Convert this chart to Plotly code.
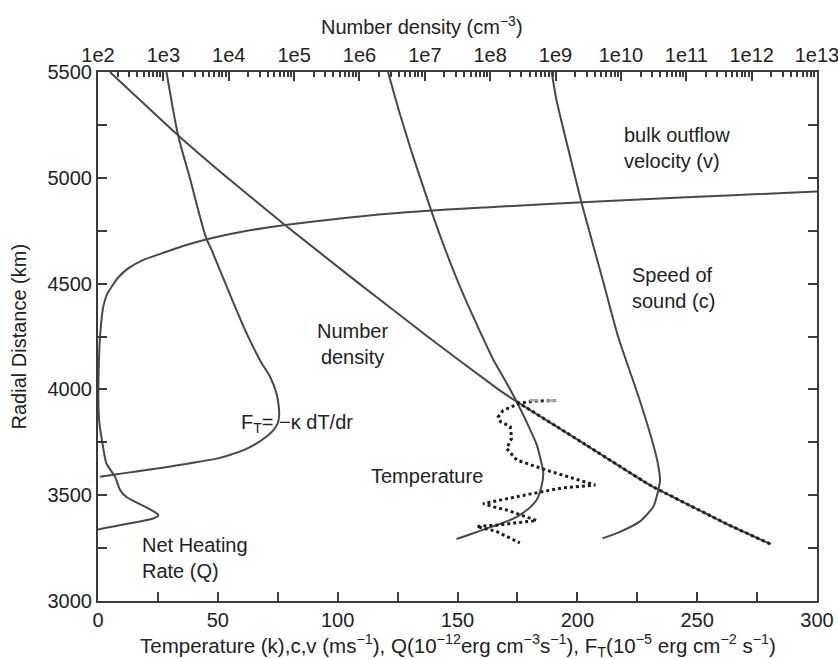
import plotly.graph_objects as go

# ---- profiles vs. radial distance (km) ----
# bulk outflow velocity v (m/s)
velocity_r = [3900, 4050, 4200, 4300, 4391, 4450, 4485, 4530, 4572, 4610, 4643, 4678, 4710, 4745,
              4777, 4810, 4838, 4862, 4883, 4900, 4918, 4935]
velocity_v = [0.0, 0.2, 0.6, 1.2, 2.2, 3.8, 5.7, 8.5, 12.6, 18.5, 26.6, 35.5, 45.5, 60.0,
              78.0, 103.0, 130.0, 165.0, 200.0, 230.0, 265.0, 300.0]

# net heating rate Q (1e-12 erg cm^-3 s^-1)
heating_r = [4000, 3850, 3750, 3650, 3587, 3525, 3490, 3455, 3425, 3406, 3390, 3375, 3360, 3347, 3338]
heating_q = [0.0, 0.5, 1.8, 3.5, 7.1, 9.2, 12.0, 18.0, 23.0, 25.2, 23.0, 17.0, 10.0, 4.0, 0.0]

# conductive heat flux F_T (1e-5 erg cm^-2 s^-1)
flux_r = [5500, 5202, 5000, 4720, 4659, 4450, 4265, 4130, 4060, 3980, 3920, 3880, 3840, 3808,
          3770, 3740, 3714, 3690, 3674, 3650, 3630, 3612, 3598, 3587]
flux_f = [28.6, 33.4, 38.3, 45.0, 47.4, 55.0, 62.0, 68.0, 71.8, 74.5, 75.4, 75.6, 75.0, 73.2,
          69.5, 65.5, 61.0, 55.0, 50.0, 38.0, 27.0, 16.0, 7.0, 0.8]

# model temperature (K)
temp_r = [5500, 5300, 5100, 4840, 4706, 4500, 4320, 4139, 4040, 3942, 3830, 3740, 3682, 3604, 3540,
          3477, 3435, 3398, 3365, 3343, 3318, 3293]
temp_t = [121.0, 126.0, 131.5, 139.2, 143.4, 150.5, 157.5, 165.0, 170.0, 174.7, 179.5, 183.0, 184.4,
          185.8, 185.0, 183.0, 179.5, 174.7, 168.0, 162.2, 156.0, 149.6]

# speed of sound c (m/s)
sound_r = [5500, 5368, 5100, 4880, 4706, 4500, 4250, 3950, 3750, 3650, 3572, 3525, 3446, 3375, 3327, 3296]
sound_c = [189.3, 191.3, 197.0, 201.8, 206.0, 211.0, 217.0, 226.0, 231.4, 233.6, 234.5, 233.8, 231.7,
           226.0, 217.8, 210.5]

# number density (cm^-3), top log axis
density_r = [5500, 5200, 5000, 4777, 4500, 4250, 4000, 3942, 3816, 3750, 3548, 3400, 3364, 3269]
density_n = [1.52e2, 1.69e3, 9.55e3, 7.24e4, 9.9e5, 1.10e7, 1.33e8, 2.55e8, 1.15e9, 2.53e9, 2.78e10,
             2.44e11, 4.15e11, 1.95e12]

# measured temperature profile (K)
obs_r = [3947, 3945, 3935, 3900, 3870, 3847, 3824, 3769, 3721, 3666, 3619, 3585, 3555, 3548, 3535,
         3505, 3460, 3445, 3430, 3380, 3370, 3360, 3352, 3330, 3275]
obs_t = [191.0, 182.0, 176.0, 169.0, 167.0, 168.0, 172.0, 172.6, 170.5, 174.7, 187.0, 197.0, 206.0,
         207.5, 194.0, 180.0, 160.7, 165.0, 170.5, 183.0, 175.0, 167.7, 158.0, 166.0, 176.0]
obs_faint_r = [3949, 3947]
obs_faint_t = [180.0, 191.3]

# axis ticks
x_ticks = list(range(0, 301, 25))
x_labels = [str(v) if v % 50 == 0 else "" for v in x_ticks]
y_ticks = list(range(3000, 5501, 250))
y_labels = [str(v) if v % 500 == 0 else "" for v in y_ticks]
decades = list(range(2, 14))
decade_labels = ["1e%d" % d for d in decades]

FONT = "Liberation Sans, Arial, sans-serif"
FS = 20
INK = "#222222"
AXIS = "#3a3a3a"
CURVE = "#484848"

fig = go.Figure()


def curve(x, y, axis="x", **line):
    style = dict(color=CURVE, width=2)
    style.update(line)
    fig.add_trace(go.Scatter(x=x, y=y, mode="lines", xaxis=axis, yaxis="y",
                             line=style, hoverinfo="skip", showlegend=False))


curve(velocity_v, velocity_r, shape="spline", smoothing=0.8)
curve(heating_q, heating_r, shape="spline", smoothing=0.6)
curve(flux_f, flux_r, shape="spline", smoothing=0.8)
curve(temp_t, temp_r, shape="spline", smoothing=0.6)
curve(sound_c, sound_r, shape="spline", smoothing=0.6)
curve(density_n, density_r, axis="x2", shape="spline", smoothing=0.4)

# measured points along the lower part of the density profile
low = [i for i, r in enumerate(density_r) if r <= 3942]
curve([density_n[i] for i in low], [density_r[i] for i in low], axis="x2",
      color="#1e1e1e", width=3, dash="dot", shape="spline", smoothing=0.4)

# measured temperature
curve(obs_t, obs_r, color="#1e1e1e", width=3, dash="dot")
curve(obs_faint_t, obs_faint_r, color="#a8a8a8", width=2.5, dash="dash")

# anchor for the long decade ticks on the top axis
fig.add_trace(go.Scatter(x=[1e2], y=[3000], mode="markers", xaxis="x3", yaxis="y",
                         marker=dict(opacity=0), hoverinfo="skip", showlegend=False))

axis_common = dict(showline=True, linewidth=2, linecolor=AXIS, showgrid=False,
                   zeroline=False, ticks="inside", tickcolor=AXIS, automargin=False,
                   ticklabeloverflow="allow",
                   tickfont=dict(family=FONT, size=FS, color=INK))

fig.update_layout(
    width=838, height=659,
    margin=dict(l=98, r=21, t=72, b=58, autoexpand=False),
    paper_bgcolor="white", plot_bgcolor="white",
    font=dict(family=FONT, size=FS, color=INK),
    xaxis=dict(range=[0, 300], tickmode="array", tickvals=x_ticks, ticktext=x_labels,
               ticklen=9, tickwidth=2, anchor="y", side="bottom", **axis_common),
    yaxis=dict(range=[3000, 5500], tickmode="array", tickvals=y_ticks, ticktext=y_labels,
               ticklen=9, tickwidth=2, mirror="ticks", **axis_common),
    xaxis2=dict(type="log", range=[2, 13], overlaying="x", side="top", anchor="y",
                tickmode="array",
                tickvals=[m * 10 ** d for d in range(2, 13) for m in range(2, 10)] + [10 ** d for d in decades],
                ticktext=[""] * (11 * 8) + decade_labels,
                ticklen=5, tickwidth=1.5, **axis_common),
    xaxis3=dict(type="log", range=[2, 13], overlaying="x", side="top", anchor="y",
                tickmode="array", tickvals=[10 ** d for d in decades], automargin=False,
                showticklabels=False, ticklen=9, showline=False, showgrid=False,
                zeroline=False, ticks="inside", tickwidth=2, tickcolor=AXIS),
)


def label(text, x, y, **kw):
    opts = dict(showarrow=False, font=dict(family=FONT, size=FS, color=INK))
    opts.update(kw)
    fig.add_annotation(text=text, x=x, y=y, **opts)


# axis titles
label("Radial Distance (km)", 0, 0.5, xref="paper", yref="paper", textangle=-90,
      xshift=-80, xanchor="center", yanchor="middle")
label("Temperature (k),c,v (ms<sup>\u22121</sup>), Q(10<sup>\u221212</sup>erg cm<sup>\u22123</sup>s<sup>\u22121</sup>), "
      "F<sub>T</sub>(10<sup>\u22125</sup> erg cm<sup>\u22122</sup> s<sup>\u22121</sup>)",
      0.5, 0, xref="paper", yref="paper", yshift=-44, yanchor="middle",
      font=dict(family=FONT, size=20.5, color=INK))
label("Number density (cm<sup>\u22123</sup>)", 0.45, 1, xref="paper", yref="paper",
      yshift=47, yanchor="middle")

# curve labels
label("bulk outflow<br>velocity (v)", 218.5, 5141, xref="x", yref="y", xanchor="left", align="left")
label("Speed of<br>sound (c)", 222, 4479, xref="x", yref="y", xanchor="left", align="left")
label("Number<br>density", 106, 4214, xref="x", yref="y", align="center")
label("F<sub>T</sub>= \u2212\u03ba dT/dr", 59, 3840, xref="x", yref="y", xanchor="left")
label("Temperature", 113, 3591, xref="x", yref="y", xanchor="left")
label("Net Heating<br>Rate (Q)", 17.5, 3203, xref="x", yref="y", xanchor="left", align="left")

fig.write_html("out.html")
